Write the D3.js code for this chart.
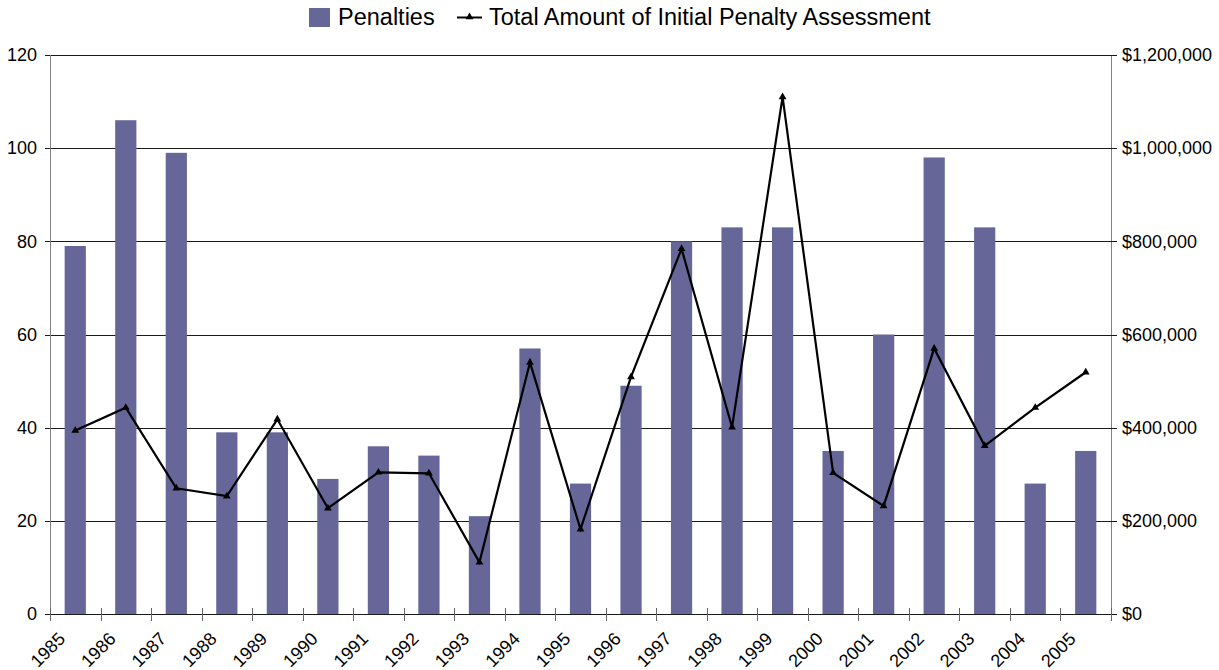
<!DOCTYPE html>
<html>
<head>
<meta charset="utf-8">
<script src="https://cdn.jsdelivr.net/npm/d3@7"></script>
<style>
  html, body { margin: 0; padding: 0; background: #fff; }
  svg { display: block; font-family: "Liberation Sans", Arial, sans-serif; }
</style>
</head>
<body>
<svg id="chart" width="1219" height="670"></svg>
<script>
// Enforcement penalties by year
const years = ["1985","1986","1987","1988","1989","1990","1991","1992","1993","1994","1995",
               "1996","1997","1998","1999","2000","2001","2002","2003","2004","2005"];
const penalties = [79,106,99,39,39,29,36,34,21,57,28,49,80,83,83,35,60,98,83,28,35];
const assessment = [394000,443000,270000,253000,418000,227000,304000,302000,111000,540000,182000,
                    509000,784000,401000,1110000,303000,232000,570000,361000,443000,519000];
const leftTicks = [0,20,40,60,80,100,120];
const rightTicks = [0,200000,400000,600000,800000,1000000,1200000];

const svg = d3.select("#chart");
const plot = { left: 50, right: 1111, top: 55, bottom: 614 };
const tickFont = 18;

const x = d3.scaleBand().domain(years).range([plot.left, plot.right])
  .paddingInner(0.58).paddingOuter(0.29);
const xEdge = d3.scaleLinear().domain([0, years.length]).range([plot.left, plot.right]);
const yL = d3.scaleLinear().domain([0, 120]).range([plot.bottom, plot.top]);
const yR = d3.scaleLinear().domain([0, 1200000]).range([plot.bottom, plot.top]);
const cx = d => x(d) + x.bandwidth() / 2;

// Horizontal gridlines
svg.append("g").selectAll("line").data(leftTicks.filter(v => v > 0)).join("line")
  .attr("x1", plot.left).attr("x2", plot.right)
  .attr("y1", d => Math.round(yL(d)) + 0.5).attr("y2", d => Math.round(yL(d)) + 0.5)
  .attr("stroke", "#1a1a1a").attr("stroke-width", 1);

// Bars
svg.append("g").selectAll("rect").data(years).join("rect")
  .attr("x", d => x(d)).attr("width", x.bandwidth())
  .attr("y", (d, i) => yL(penalties[i]))
  .attr("height", (d, i) => yL(0) - yL(penalties[i]))
  .attr("fill", "#666699");

// Left axis
const gL = svg.append("g");
gL.append("line").attr("x1", plot.left + 0.5).attr("x2", plot.left + 0.5)
  .attr("y1", plot.top).attr("y2", plot.bottom).attr("stroke", "#808080");
gL.selectAll("line.t").data(leftTicks).join("line").attr("class", "t")
  .attr("x1", plot.left - 5).attr("x2", plot.left)
  .attr("y1", d => Math.round(yL(d)) + 0.5).attr("y2", d => Math.round(yL(d)) + 0.5)
  .attr("stroke", "#1a1a1a");
gL.selectAll("text").data(leftTicks).join("text")
  .attr("x", 37).attr("y", d => yL(d)).attr("dy", "0.35em")
  .attr("text-anchor", "end").attr("font-size", tickFont).attr("fill", "#000")
  .text(d => d);

// Right axis
const gR = svg.append("g");
gR.append("line").attr("x1", plot.right + 0.5).attr("x2", plot.right + 0.5)
  .attr("y1", plot.top).attr("y2", plot.bottom).attr("stroke", "#808080");
gR.selectAll("line.t").data(rightTicks).join("line").attr("class", "t")
  .attr("x1", plot.right).attr("x2", plot.right + 6)
  .attr("y1", d => Math.round(yR(d)) + 0.5).attr("y2", d => Math.round(yR(d)) + 0.5)
  .attr("stroke", "#1a1a1a");
const money = d3.format("$,");
gR.selectAll("text").data(rightTicks).join("text")
  .attr("x", 1122).attr("y", d => yR(d)).attr("dy", "0.35em")
  .attr("text-anchor", "start").attr("font-size", tickFont).attr("fill", "#000")
  .text(d => money(d));

// Bottom axis
const gB = svg.append("g");
gB.append("line").attr("x1", plot.left - 5).attr("x2", plot.right + 5)
  .attr("y1", plot.bottom + 0.5).attr("y2", plot.bottom + 0.5).attr("stroke", "#1a1a1a");
gB.selectAll("line.t").data(d3.range(years.length + 1)).join("line").attr("class", "t")
  .attr("x1", d => Math.round(xEdge(d)) + 0.5).attr("x2", d => Math.round(xEdge(d)) + 0.5)
  .attr("y1", plot.bottom - 6).attr("y2", plot.bottom + 7)
  .attr("stroke", "#666");
gB.selectAll("text").data(years).join("text")
  .attr("transform", d => `translate(${cx(d) - 9},${plot.bottom + 26}) rotate(-45)`)
  .attr("text-anchor", "end").attr("font-size", tickFont).attr("fill", "#000")
  .text(d => d);

// Assessment line with triangle markers
const line = d3.line().x(d => cx(d)).y((d, i) => yR(assessment[i]));
svg.append("path").datum(years).attr("d", line)
  .attr("fill", "none").attr("stroke", "#000").attr("stroke-width", 2.2)
  .attr("stroke-linejoin", "miter");
const tri = d3.symbol().type(d3.symbolTriangle).size(26);
svg.append("g").selectAll("path").data(years).join("path")
  .attr("transform", (d, i) => `translate(${cx(d)},${yR(assessment[i])})`)
  .attr("d", tri).attr("fill", "#000");

// Legend
const lg = svg.append("g");
lg.append("rect").attr("x", 309).attr("y", 8).attr("width", 21).attr("height", 19).attr("fill", "#666699");
lg.append("text").attr("x", 338).attr("y", 17).attr("dy", "0.35em").attr("font-size", 23.5)
  .text("Penalties");
lg.append("line").attr("x1", 457).attr("x2", 482).attr("y1", 17.5).attr("y2", 17.5)
  .attr("stroke", "#000").attr("stroke-width", 2);
lg.append("path").attr("transform", "translate(469.5,17)").attr("d", tri).attr("fill", "#000");
lg.append("text").attr("x", 489).attr("y", 17).attr("dy", "0.35em").attr("font-size", 23.5)
  .text("Total Amount of Initial Penalty Assessment");
</script>
</body>
</html>
